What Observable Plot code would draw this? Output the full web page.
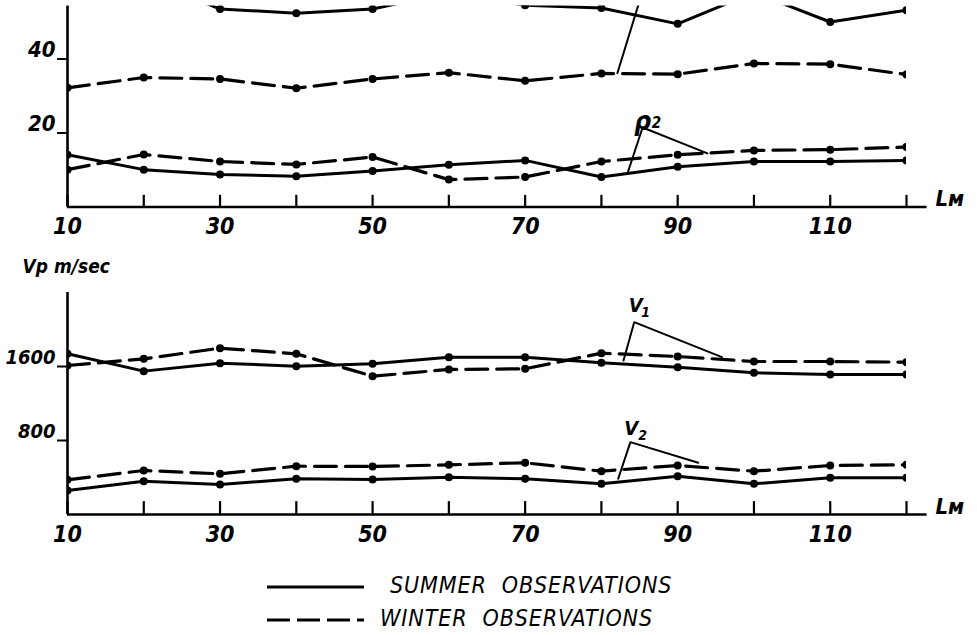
<!DOCTYPE html>
<html><head><meta charset="utf-8">
<script src="https://cdn.jsdelivr.net/npm/d3@7"></script>
<script src="https://cdn.jsdelivr.net/npm/@observablehq/plot@0.6"></script>
<style>
body{margin:0;background:#fff}
#chart{position:relative;width:977px;height:635px;background:#fff;overflow:hidden}
#chart svg{position:absolute;left:0}
.leg{position:absolute;font-family:'DejaVu Sans Condensed','Liberation Sans Narrow','DejaVu Sans',sans-serif;font-style:italic;font-size:23px;color:#000;white-space:pre;letter-spacing:0.9px}
</style>
</head><body><div id="chart"></div>
<script>
// ---- data ----
const L = [10,20,30,40,50,60,70,80,90,100,110,120];
const xTickLabels = [10,30,50,70,90,110];
const rho1Summer = [60, 62, 53.5, 52.4, 53.5, 58, 54.5, 53.8, 49.5, 58, 50, 53.2];
const rho1Winter = [32.2, 35, 34.6, 32.1, 34.6, 36.3, 34.1, 36.1, 35.9, 38.8, 38.6, 35.8];
const rho2Summer = [14.1, 10.1, 8.8, 8.3, 9.7, 11.4, 12.6, 8.1, 10.9, 12.3, 12.3, 12.6];
const rho2Winter = [10.1, 14.2, 12.3, 11.5, 13.5, 7.4, 8.1, 12.3, 14.1, 15.3, 15.5, 16.2];
const v1Summer = [1737, 1550, 1636, 1604, 1629, 1701, 1701, 1640, 1593, 1532, 1514, 1514];
const v1Winter = [1611, 1683, 1798, 1737, 1495, 1568, 1575, 1744, 1708, 1654, 1654, 1647];
const v2Summer = [259, 360, 324, 386, 378, 403, 386, 332, 414, 332, 397, 397];
const v2Winter = [375, 476, 440, 522, 519, 537, 559, 468, 530, 468, 530, 537];
const rhoTicks = [20, 40];
const vTicks = [800, 1600];
// leader lines and labels (data space)
const rho1Leader = [[82.1,36.2],[85.2,57]];
const rho2Leader = [[83.5,9.6],[85.4,21.5],[93.9,14.5]];
const v1Leader = [[82.9,1665],[84.3,2079],[95.8,1701]];
const v2Leader = [[82.2,386],[83.8,782],[92.7,559]];
const rhoLabels = [{x:85.4,y:23.1,t:"ρ",s:26},{x:87.2,y:22.6,t:"2",s:15}];
const vLabels = [{x:84.5,y:2259,t:"V",s:20},{x:85.8,y:2185,t:"1",s:14},
                 {x:83.9,y:924,t:"V",s:20},{x:85.4,y:850,t:"2",s:14}];

const FONT = "'DejaVu Sans Condensed','Liberation Sans Narrow','DejaVu Sans',sans-serif";
const rows = (vals, season) => L.map((x,i)=>({x, y: vals[i], season}));
const pts = a => a.map(([x,y])=>({x,y}));

function panel({series, yDomain, yTicks, yFont, height, marginTop, marginBottom, leaders, labels, extra}) {
  const data = series.flatMap(s => s.data.map(d=>({...d, id: s.id})));
  const summer = data.filter(d=>d.season==="summer");
  const winter = data.filter(d=>d.season==="winter");
  const tickTop = yDomain[1] * 0.058;
  const tickRows = L.map(x => ({x, y1: 0, y2: tickTop}));
  return Plot.plot({
    width: 977, height, marginLeft: 67, marginRight: 71, marginTop, marginBottom,
    x: {domain: [10,120]},
    y: {domain: yDomain},
    style: {fontFamily: FONT, fontStyle: "italic", background: "transparent", overflow: "visible", color: "#000"},
    marks: [
      Plot.ruleX([10], {y1: () => 0, y2: () => yDomain[1], strokeWidth: 2.6}),
      Plot.ruleY([0], {x1: () => 10, x2: () => 122.7, strokeWidth: 2.6}),
      Plot.ruleX(tickRows, {x: "x", y1: "y1", y2: "y2", stroke: "#000", strokeWidth: 2.2}),
      Plot.ruleY(yTicks, {y: d=>d, x1: () => 10 - 10/7.627, x2: () => 10, strokeWidth: 2}),
      Plot.axisX({ticks: xTickLabels, tickSize: 0, tickPadding: 11, fontSize: 23, fontWeight: "bold", tickFormat: d=>String(d), label: null}),
      Plot.axisY({ticks: yTicks, tickSize: 0, tickPadding: 12, dy: -9, fontSize: yFont, fontWeight: "bold", tickFormat: d=>String(d), label: null}),
      Plot.line(summer, {x:"x", y:"y", z:"id", stroke:"#000", strokeWidth: 3, clip: true}),
      Plot.line(winter, {x:"x", y:"y", z:"id", stroke:"#000", strokeWidth: 3.2, strokeDasharray: "22,9", clip: true}),
      Plot.dot(data, {x:"x", y:"y", r: 4, fill:"#000", clip: true}),
      ...leaders.map(l => Plot.line(pts(l), {x:"x", y:"y", stroke:"#000", strokeWidth: 2, clip: true})),
      Plot.text(labels, {x:"x", y:"y", text:"t", fontSize: d=>d.s, textAnchor:"middle", lineAnchor:"middle", fontWeight:"bold"}),
      Plot.text([{x:123.8, y:0}], {x:"x", y:"y", text: ()=>"Lм", textAnchor:"start", lineAnchor:"bottom", dy:-1, fontSize: 22, fontWeight:"bold"}),
      ...extra
    ]
  });
}

const root = document.getElementById("chart");

const topSvg = panel({
  series: [
    {id:"r1s", data: rows(rho1Summer,"summer")},
    {id:"r1w", data: rows(rho1Winter,"winter")},
    {id:"r2s", data: rows(rho2Summer,"summer")},
    {id:"r2w", data: rows(rho2Winter,"winter")}
  ],
  yDomain: [0, 54.3], yTicks: rhoTicks, yFont: 22, height: 245, marginTop: 5.6, marginBottom: 38.5,
  leaders: [rho1Leader, rho2Leader], labels: rhoLabels, extra: []
});
topSvg.style.top = "0px";
root.appendChild(topSvg);

const botSvg = panel({
  series: [
    {id:"v1s", data: rows(v1Summer,"summer")},
    {id:"v1w", data: rows(v1Winter,"winter")},
    {id:"v2s", data: rows(v2Summer,"summer")},
    {id:"v2w", data: rows(v2Winter,"winter")}
  ],
  yDomain: [0, 2400], yTicks: vTicks, yFont: 20, height: 310, marginTop: 52, marginBottom: 36,
  leaders: [v1Leader, v2Leader], labels: vLabels,
  extra: [Plot.text([{x:4.1, y:2680}], {x:"x", y:"y", text: ()=>"Vp m/sec", textAnchor:"start", lineAnchor:"middle", fontSize: 19, fontWeight:"bold"})]
});
botSvg.style.top = "240px";
root.appendChild(botSvg);

// legend (below the charts)
const ns = "http://www.w3.org/2000/svg";
const leg = document.createElementNS(ns, "svg");
leg.setAttribute("width", 977); leg.setAttribute("height", 85);
leg.style.top = "550px";
function seg(y, dash){
  const l = document.createElementNS(ns, "line");
  l.setAttribute("x1", 267); l.setAttribute("x2", 364);
  l.setAttribute("y1", y); l.setAttribute("y2", y);
  l.setAttribute("stroke", "#000"); l.setAttribute("stroke-width", 3);
  if (dash) l.setAttribute("stroke-dasharray", dash);
  leg.appendChild(l);
}
seg(37, null); seg(70, "23,7");
root.appendChild(leg);
const t1 = document.createElement("div"); t1.className="leg"; t1.textContent = "SUMMER  OBSERVATIONS";
t1.style.left = "390px"; t1.style.top = "572px";
const t2 = document.createElement("div"); t2.className="leg"; t2.textContent = "WINTER  OBSERVATIONS";
t2.style.left = "380px"; t2.style.top = "605px";
root.appendChild(t1); root.appendChild(t2);
</script>
</body></html>
